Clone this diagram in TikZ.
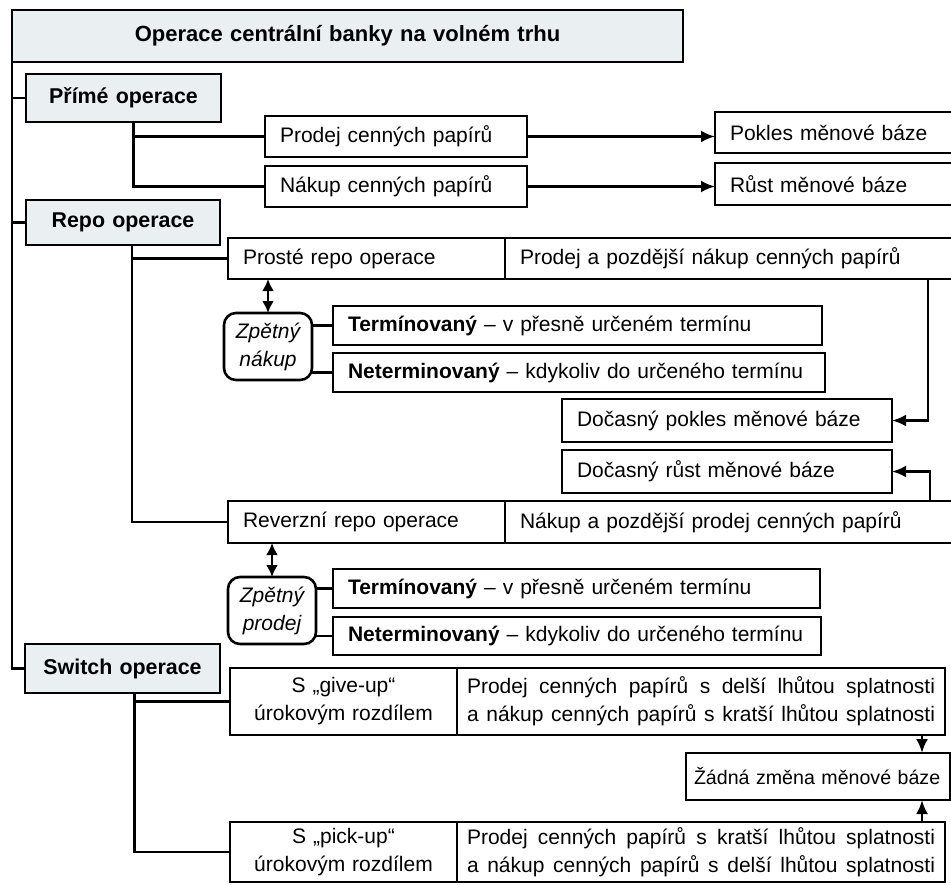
\documentclass[tikz,border=0pt]{standalone}
\usepackage{fontspec}
\setmainfont{Liberation Sans}
\usetikzlibrary{arrows.meta,positioning}
\definecolor{headfill}{RGB}{234,239,242}
\newcommand{\spreadline}[1]{\makebox[\hsize][s]{\spaceskip=0pt\xspaceskip=0pt\relax #1}}

\begin{document}
\begin{tikzpicture}[
        x=0.5pt, y=-0.5pt,
        every node/.style={font=\fontsize{10.5}{14}\selectfont},
        box/.style={draw, line width=1.3pt, anchor=north west, outer sep=0pt, inner xsep=7.5pt, inner ysep=0pt, align=left},
        head/.style={box, fill=headfill, align=center, font=\fontsize{10.7}{14}\selectfont\bfseries},
        back/.style={box, rounded corners=6pt, align=center, inner xsep=2pt, text width=40pt, minimum height=33.5pt, font=\fontsize{10.5}{14}\selectfont\itshape},
        line/.style={line width=1.3pt},
        arrow/.style={line width=1.3pt, -{Latex[length=7pt,width=6pt]}},
        both/.style={line width=1.3pt, {Latex[length=6pt,width=6pt]}-{Latex[length=6pt,width=6pt]}}
    ]
        \useasboundingbox (0,0) rectangle (951,884);
        \fill[white] (0,0) rectangle (951,884);
        \clip (0,0) rectangle (951,884);

        \node[head, text width=320.5pt, minimum height=26pt, font=\fontsize{11}{14}\selectfont\bfseries] (title) at (12,10) {Operace centrální banky na volném trhu};
        \node[head, text width=82.5pt, minimum height=24pt] (prime) at (26,74) {Přímé operace};
        \node[head, text width=82pt, minimum height=22.5pt] (repo) at (26,200) {Repo operace};
        \node[head, text width=82.5pt, minimum height=24.5pt] (switch) at (25,644) {Switch operace};

        % prime operace
        \node[box, text width=116pt, minimum height=20.5pt] (prodej) at (265,116) {Prodej cenných papírů};
        \node[box, text width=116pt, minimum height=20.5pt] (nakup) at (265,166) {Nákup cenných papírů};
        \node[box, text width=107.5pt, minimum height=20.5pt] (pokles) at (715,112) {Pokles měnové báze};
        \node[box, text width=107.5pt, minimum height=21pt] (rust) at (715,163) {Růst měnové báze};

        % repo operace
        \node[box, text width=123.5pt, minimum height=20.5pt] (prosteL) at (228,238) {Prosté repo operace};
        \node[box, text width=215pt, minimum height=20.5pt, right=0pt of prosteL] (prosteR) {Prodej a pozdější nákup cenných papírů};
        \node[back] (zpet1) at (224,313) {Zpětný\\nákup};
        \node[box, text width=229.5pt, minimum height=19.5pt] (term1) at (333,306) {\textbf{Termínovaný} – v přesně určeném termínu};
        \node[box, text width=231pt, minimum height=19.5pt] (neterm1) at (333,353) {\textbf{Neterminovaný} – kdykoliv do určeného termínu};
        \node[box, text width=150pt, minimum height=21.5pt] (dpokles) at (562,399) {Dočasný pokles měnové báze};
        \node[box, text width=150pt, minimum height=21.5pt] (drust) at (562,450) {Dočasný růst měnové báze};
        \node[box, text width=123.5pt, minimum height=21pt] (reverzL) at (228,501) {Reverzní repo operace};
        \node[box, text width=215pt, minimum height=21pt, right=0pt of reverzL] (reverzR) {Nákup a pozdější prodej cenných papírů};
        \node[back] (zpet2) at (228,577) {Zpětný\\prodej};
        \node[box, text width=228.5pt, minimum height=19.5pt] (term2) at (333,569) {\textbf{Termínovaný} – v přesně určeném termínu};
        \node[box, text width=229pt, minimum height=19pt] (neterm2) at (333,617) {\textbf{Neterminovaný} – kdykoliv do určeného termínu};

        % switch operace
        \node[box, align=center, text width=98.5pt, minimum height=33.5pt] (giveL) at (230,668) {S „give-up“\\úrokovým rozdílem};
        \node[box, inner xsep=5pt, text width=234pt, minimum height=33.5pt, right=0pt of giveL] (giveR) {\spreadline{Prodej cenných papírů s delší lhůtou splatnosti}\\\spreadline{a nákup cenných papírů s kratší lhůtou splatnosti}};
        \node[box, inner xsep=4pt, text width=124pt, minimum height=23.5pt, font=\fontsize{9.8}{14}\selectfont] (zadna) at (686,753) {Žádná změna měnové báze};
        \node[box, align=center, text width=98.5pt, minimum height=30pt] (pickL) at (230,822) {S „pick-up“\\úrokovým rozdílem};
        \node[box, inner xsep=5pt, text width=234pt, minimum height=30pt, right=0pt of pickL] (pickR) {\spreadline{Prodej cenných papírů s kratší lhůtou splatnosti}\\\spreadline{a nákup cenných papírů s delší lhůtou splatnosti}};

        \draw[line] (title.south west) |- (switch.west);
        \foreach \h in {prime, repo} {
            \draw[line] (\h.west) -- (\h.west -| title.west);
        }

        \draw[line] ([xshift=5pt]prime.south) |- (nakup.west);
        \draw[line] (prodej.west) -- ([xshift=5pt]prime.south |- prodej.west);
        \draw[arrow] (prodej.east) -- (prodej.east -| pokles.west);
        \draw[arrow] (nakup.east) -- (nakup.east -| rust.west);

        \draw[line] ([xshift=4.5pt]repo.south) |- (reverzL.west);
        \draw[line] (prosteL.west) -- ([xshift=4.5pt]repo.south |- prosteL.west);
        \draw[both] (zpet1.north) -- (zpet1.north |- prosteL.south);
        \draw[both] (zpet2.north) -- (zpet2.north |- reverzL.south);
        \foreach \t/\z in {term1/zpet1, neterm1/zpet1, term2/zpet2, neterm2/zpet2} {
            \draw[line] (\t.west) -- (\t.west -| \z.east);
        }
        \draw[arrow] ([xshift=18pt]dpokles.east |- prosteR.south) |- (dpokles.east);
        \draw[arrow] ([xshift=19pt]drust.east |- reverzR.north) |- (drust.east);

        \draw[line] ([xshift=6pt]switch.south) |- (pickL.west);
        \draw[line] (giveL.west) -- ([xshift=6pt]switch.south |- giveL.west);
        \draw[arrow] ([xshift=-14pt]zadna.north east |- giveR.south) -- ([xshift=-14pt]zadna.north east);
        \draw[arrow] ([xshift=-14pt]zadna.south east |- pickR.north) -- ([xshift=-14pt]zadna.south east);
    \end{tikzpicture}
\end{document}
